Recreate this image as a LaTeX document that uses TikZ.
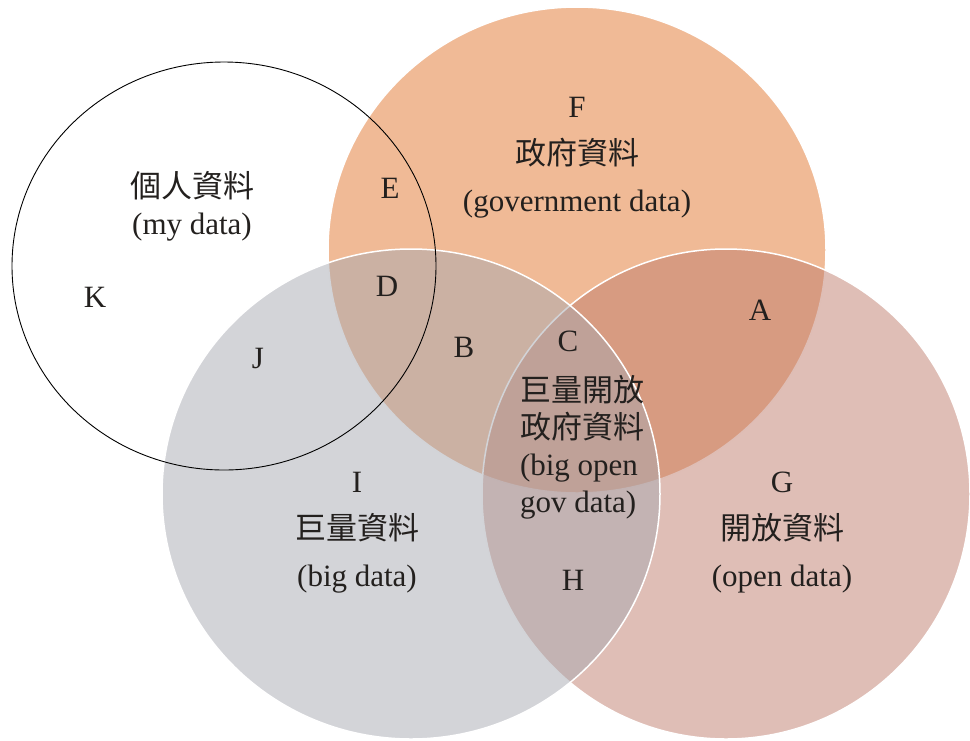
\documentclass[tikz,border=0pt]{standalone}
\usepackage{fontspec}
\setmainfont{Liberation Serif}
\newfontfamily\cjk{Noto Sans CJK TC}
\newcommand{\zh}[1]{{\cjk #1}}
\definecolor{govorange}{RGB}{225,117,45}
\definecolor{openpink}{RGB}{191,125,109}
\definecolor{biggray}{RGB}{167,169,177}
\definecolor{labeltext}{RGB}{35,32,30}

\begin{document}
\begin{tikzpicture}[
x=1pt,y=-1pt,
set/.style={fill opacity=0.5,draw=white,line width=1.5pt},
every node/.style={text=labeltext,font=\fontsize{31}{47}\selectfont,align=center,inner sep=0pt},
tight/.style={font=\fontsize{31}{37}\selectfont}
]
\useasboundingbox (0,0) rectangle (970,740);
% the three data sets
\draw[set,fill=govorange] (577,250) ellipse [x radius=249,y radius=243];
\draw[set,fill=openpink] (726,494) ellipse [x radius=244,y radius=245];
\draw[set,fill=biggray] (411,494) ellipse [x radius=249,y radius=245];
% personal data
\draw[line width=0.9pt] (224,266) ellipse [x radius=212,y radius=204];

\node (mine) at (192,206) [tight] {\zh{個人資料}\\(my data)};
\node (gov) at (577,158) {F\\\zh{政府資料}\\(government data)};
\node (big) at (357,533) {I\\\zh{巨量資料}\\(big data)};
\node (open) at (782,533) {G\\\zh{開放資料}\\(open data)};
\node (bogd) at (582,447) [tight,align=left] {\zh{巨量開放}\\\zh{政府資料}\\(big open\\gov data)};

\node (a) at (760,310) {A};
\node (b) at (464,347) {B};
\node (c) at (568,341) {C};
\node (d) at (387,286) {D};
\node (e) at (390,188) {E};
\node (h) at (573,580) {H};
\node (j) at (258,358) {J};
\node (k) at (95,297) {K};
\end{tikzpicture}
\end{document}
